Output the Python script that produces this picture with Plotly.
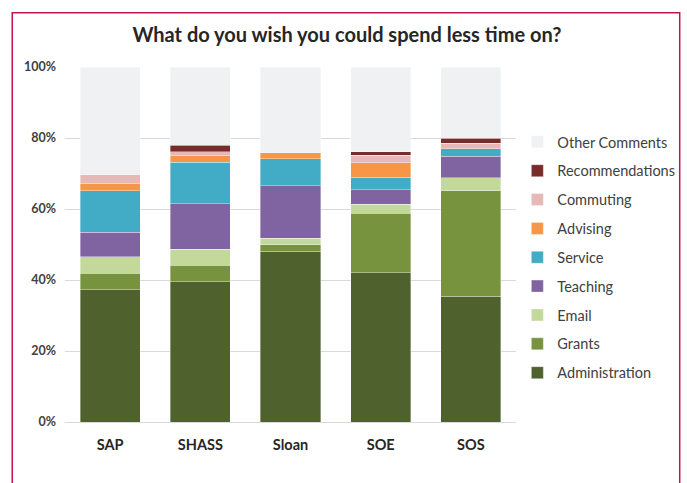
import plotly.graph_objects as go

schools = ['SAP', 'SHASS', 'Sloan', 'SOE', 'SOS']

administration = [37.2, 39.5, 48.1, 42.1, 35.4]
grants = [4.7, 4.6, 1.9, 16.7, 29.7]
email = [4.6, 4.5, 1.8, 2.6, 3.7]
teaching = [7.0, 12.9, 14.8, 4.0, 6.0]
service = [11.6, 11.7, 7.5, 3.6, 2.2]
advising = [2.2, 1.9, 1.8, 4.0, 0.0]
commuting = [2.5, 1.0, 0.0, 2.1, 1.5]
recommendations = [0.0, 1.9, 0.0, 1.0, 1.4]
other_comments = [30.2, 22.0, 24.1, 23.9, 20.1]

series = [
    ('Administration', administration, '#4F612C'),
    ('Grants', grants, '#78933D'),
    ('Email', email, '#C3D99C'),
    ('Teaching', teaching, '#8064A2'),
    ('Service', service, '#42ABC6'),
    ('Advising', advising, '#F79646'),
    ('Commuting', commuting, '#E6B9B8'),
    ('Recommendations', recommendations, '#772C2A'),
    ('Other Comments', other_comments, '#F0F1F3'),
]

fig = go.Figure()
for i, (name, vals, color) in enumerate(series):
    fig.add_trace(go.Bar(
        x=schools, y=vals, name=name, legendgroup=name,
        legendrank=1000 - i,
        marker=dict(color=color, line=dict(color='rgba(255,255,255,0.45)', width=0.8)),
    ))

font_family = 'Lato, Open Sans, sans-serif'

fig.update_layout(
    barmode='stack',
    bargap=0.333,
    width=687, height=483,
    margin=dict(l=65, r=171, t=67, b=61, autoexpand=False),
    paper_bgcolor='white', plot_bgcolor='white',
    font=dict(family=font_family, color='#404040'),
    title=dict(text='<b>What do you wish you could spend less time on?</b>',
               x=0.505, xanchor='center', y=0.927, yanchor='middle',
               font=dict(size=20, color='#262626')),
    yaxis=dict(range=[0, 100], dtick=20, showgrid=True,
               gridcolor='#D9D9D9', gridwidth=1, zeroline=False,
               tickfont=dict(size=12.5, color='#404040', family=font_family),
               tickprefix='<b>', ticksuffix='%</b>', ticks='', ticklabelstandoff=8),
    xaxis=dict(tickfont=dict(size=14.5, color='#262626', family=font_family),
               showline=True, linecolor='#D9D9D9', linewidth=1,
               tickprefix='<b>', ticksuffix='</b>', ticklabelstandoff=10),
    legend=dict(traceorder='grouped', tracegroupgap=7,
                x=1.003, xanchor='left', y=0.834, yanchor='top',
                bgcolor='rgba(0,0,0,0)',
                font=dict(size=14.5, color='#404040', family=font_family),
                itemwidth=30),
    showlegend=True,
)

fig.add_shape(type='rect', xref='paper', yref='paper',
              x0=-0.117, x1=1.363, y0=-0.2, y1=1.153,
              line=dict(color='#C0174A', width=1.5), fillcolor='rgba(0,0,0,0)')

fig.write_html('out.html', config={'displayModeBar': False},
               post_script="document.body.style.margin='0';")
